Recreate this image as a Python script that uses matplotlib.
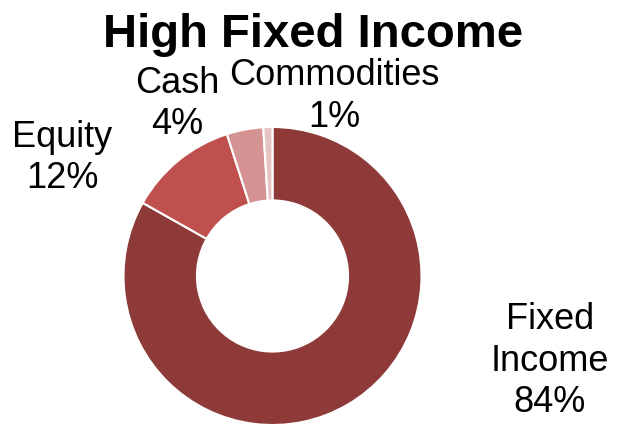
import matplotlib.pyplot as plt

plt.rcParams['font.family'] = ['Liberation Sans', 'DejaVu Sans']

# allocation data
categories = ['Fixed Income', 'Equity', 'Cash', 'Commodities']
label_text = ['Fixed\nIncome', 'Equity', 'Cash', 'Commodities']
values = [84, 12, 4, 1]
colors = ['#8E3A39', '#C0504D', '#D49392', '#E7C4C4']

# label centres (in pie radius units)
label_pos = [(1.862, -0.564), (-1.409, 0.799), (-0.641, 1.161), (0.413, 1.211)]

W, H = 617, 431
cx, cy, R = 272.5, 277, 149

fig = plt.figure(figsize=(W / 100, H / 100), dpi=100)
ax = fig.add_axes([(cx - R) / W, (H - cy - R) / H, 2 * R / W, 2 * R / H])

wedges, _ = ax.pie(values, colors=colors, startangle=90, counterclock=False,
                   radius=1, wedgeprops=dict(width=0.493, edgecolor='white', linewidth=1.5))
ax.set_xlim(-1, 1)
ax.set_ylim(-1, 1)
ax.axis('off')

for txt, v, (x, y) in zip(label_text, values, label_pos):
    ax.text(x, y, f'{txt}\n{v}%', ha='center', va='center', fontsize=26,
            linespacing=1.25, clip_on=False)

fig.text(313.5 / W, 1 - 47 / H, 'High Fixed Income', ha='center', va='baseline',
         fontsize=34, fontweight='bold')

fig.savefig('out.png', dpi=100, facecolor='white')
